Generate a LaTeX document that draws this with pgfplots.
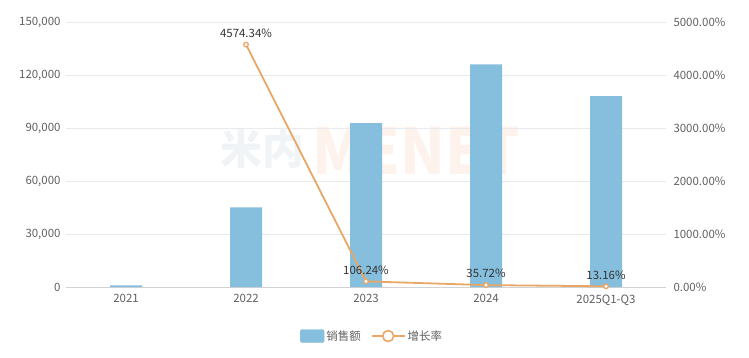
\documentclass[border=0pt]{standalone}
\usepackage{pgfplots}
\pgfplotsset{compat=1.18}
\usepackage{fontspec}
\setmainfont{Noto Sans CJK SC}
\definecolor{barc}{RGB}{134,191,221}
\definecolor{linec}{RGB}{232,167,102}
\definecolor{tickc}{RGB}{96,96,96}
\definecolor{gridc}{RGB}{232,234,238}
\definecolor{labc}{RGB}{51,51,51}
\definecolor{wmo}{RGB}{253,243,236}
\definecolor{wmb}{RGB}{240,244,246}

\pgfplotstableread{
x y
0 963
1 45000
2 92800
3 125960
4 108000
}\bardata

\pgfplotstableread{
x y lab
1 4574.34 4574.34
2 106.24 106.24
3 35.72 35.72
4 13.16 13.16
}\linedata

\begin{document}
\begin{tikzpicture}
\path[use as bounding box] (0,0) rectangle (749bp,358bp);
\node[text=wmo, font=\fontsize{64}{64}\selectfont\bfseries, xscale=0.92, inner sep=0pt] at (416bp,207bp) {MENET};
\node[text=wmb, font=\fontsize{42}{42}\selectfont\bfseries, inner sep=0pt] at (262bp,209bp) {米内};
\begin{axis}[
  at={(66bp,71bp)}, anchor=south west,
  scale only axis, width=600bp, height=265bp,
  xmin=-0.5, xmax=4.5, ymin=0, ymax=150000,
  xtick={0,1,2,3,4},
  xticklabels={2021,2022,2023,2024,2025Q1-Q3},
  ytick={0,30000,60000,90000,120000,150000},
  yticklabels={0,{30,000},{60,000},{90,000},{120,000},{150,000}},
  scaled y ticks=false,
  yticklabel style={font=\fontsize{11.5}{13}\selectfont, text=tickc, xshift=-2bp},
  xticklabel style={font=\fontsize{11.5}{13}\selectfont, text=tickc, yshift=-4bp},
  axis line style={draw=none},
  axis x line*=bottom, axis y line*=left,
  x axis line style={draw=gray!35},
  major tick length=0pt,
  ymajorgrids, grid style={gridc, line width=0.6pt},
  xmajorgrids=false,
  clip=false,
]
\addplot[ybar, bar width=32bp, fill=barc, draw=none] table[x=x,y=y] {\bardata};
\end{axis}
\begin{axis}[
  at={(66bp,71bp)}, anchor=south west,
  scale only axis, width=600bp, height=265bp,
  xmin=-0.5, xmax=4.5, ymin=0, ymax=5000,
  axis x line=none, axis y line*=right,
  axis line style={draw=none},
  ytick={0,1000,2000,3000,4000,5000},
  yticklabels={0.00\%,1000.00\%,2000.00\%,3000.00\%,4000.00\%,5000.00\%},
  major tick length=0pt,
  yticklabel style={font=\fontsize{11.5}{13}\selectfont, text=tickc, xshift=4bp},
  clip=false,
  legend style={at={(0.51,-0.185)}, anchor=center, draw=none, fill=none,
    legend columns=2, font=\fontsize{11.5}{13}\selectfont, text=tickc,
    /tikz/every even column/.append style={column sep=8bp}},
]
\addlegendimage{legend image code/.code={\fill[barc, rounded corners=2pt] (0bp,-6.5bp) rectangle (24bp,6.5bp);}}
\addlegendentry{销售额}
\addplot[linec, line width=1.8pt, mark=*, mark size=2.3pt,
  mark options={fill=white, draw=linec, line width=1.3pt},
  point meta=explicit symbolic,
  nodes near coords={\pgfplotspointmeta\%},
  every node near coord/.append style={font=\fontsize{11.5}{13}\selectfont, text=labc, anchor=south, yshift=3bp},
  legend image code/.code={\draw[linec, line width=1.8pt] (0bp,0bp) -- (33bp,0bp); \draw[linec, fill=white, line width=1.6pt] (16.5bp,0bp) circle (5.5bp);}
] table[x=x,y=y,meta=lab] {\linedata};
\addlegendentry{增长率}
\end{axis}
\end{tikzpicture}
\end{document}
